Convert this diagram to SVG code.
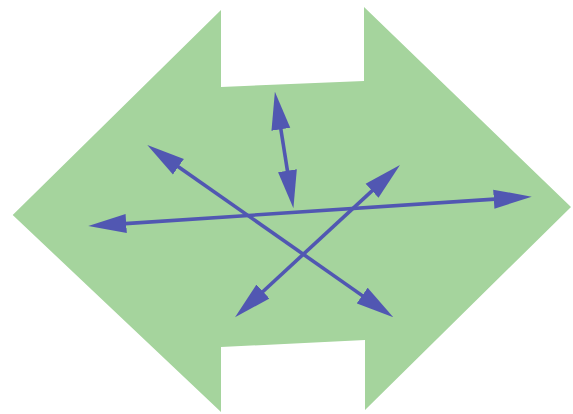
<svg xmlns="http://www.w3.org/2000/svg" width="573" height="414" viewBox="0 0 573 414">
  <style>
    .bg { fill: #ffffff; }
    .shape { fill: #a5d49d; }
    .conn { stroke: #5157b2; stroke-width: 3.6; fill: none; marker-start: url(#head); marker-end: url(#head); }
  </style>
  <defs>
    <marker id="head" markerUnits="userSpaceOnUse" markerWidth="38" markerHeight="20" viewBox="0 0 38 20" refX="1" refY="10" orient="auto-start-reverse">
      <path d="M0,0.5 L38,10 L0,19.5 z" fill="#5157b2"/>
    </marker>
  </defs>
  <rect class="bg" x="0" y="0" width="573" height="414"/>
  <g id="double-arrow">
    <polygon class="shape" points="12.7,215 221,10 221,87 364,81 364,7 571,207 365,410 365,340 221,347 221,412"/>
  </g>
  <g id="connectors">
    <line id="diag-down" class="conn" x1="177.6" y1="166.2" x2="363.0" y2="296.1"/>
    <line id="diag-up" class="conn" x1="262.2" y1="292.2" x2="372.8" y2="190.1"/>
    <line id="horizontal" class="conn" x1="125.2" y1="223.6" x2="494.8" y2="199.1"/>
    <line id="vertical" class="conn" x1="280.7" y1="128.3" x2="287.6" y2="171.7"/>
  </g>
</svg>
